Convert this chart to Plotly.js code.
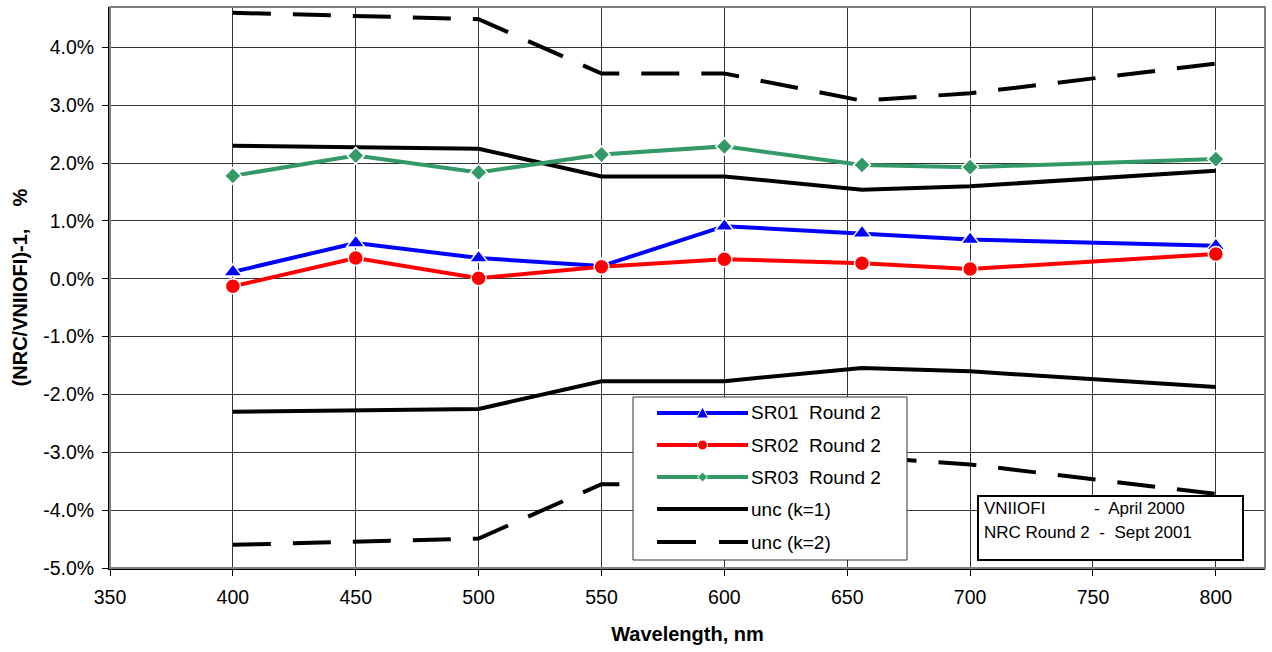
<!DOCTYPE html>
<html>
<head>
<meta charset="utf-8">
<script src="https://cdn.plot.ly/plotly-3.0.1.min.js"></script>
<style>html,body{margin:0;padding:0;background:#fff;}#chart{width:1272px;height:652px;}</style>
</head>
<body>
<div id="chart"></div>
<script>
// ---- data ----
const wavelength = [400, 450, 500, 550, 600, 656, 700, 800];
const sr01 = [0.12, 0.62, 0.36, 0.22, 0.91, 0.79, 0.68, 0.57];
const sr02 = [-0.13, 0.36, 0.01, 0.21, 0.34, 0.27, 0.17, 0.43];
const sr03 = [1.78, 2.13, 1.84, 2.15, 2.29, 1.97, 1.93, 2.07];
const uncK1Upper = [2.30, 2.28, 2.25, 1.77, 1.77, 1.54, 1.60, 1.87];
const uncK1Lower = [-2.30, -2.28, -2.25, -1.77, -1.77, -1.54, -1.60, -1.87];
const uncK2Upper = [4.60, 4.55, 4.49, 3.55, 3.55, 3.08, 3.21, 3.72];
const uncK2Lower = [-4.60, -4.54, -4.49, -3.55, -3.55, -3.08, -3.21, -3.72];
const yTickVals = [-5, -4, -3, -2, -1, 0, 1, 2, 3, 4];
const yTickText = ['-5.0%', '-4.0%', '-3.0%', '-2.0%', '-1.0%', '0.0%', '1.0%', '2.0%', '3.0%', '4.0%'];
const xTickVals = [350, 400, 450, 500, 550, 600, 650, 700, 750, 800];
const seriesNames = ['SR01  Round 2', 'SR02  Round 2', 'SR03  Round 2', 'unc (k=1)', 'unc (k=2)'];
const noteLines = ['VNIIOFI', '-  April 2000', 'NRC Round 2  -  Sept 2001'];
const xTitle = 'Wavelength, nm';
const yTitle = '(NRC/VNIIOFI)-1,\u00A0\u00A0\u00A0\u00A0%';

// ---- layout helpers ----
const M = {l: 110, r: 7, t: 7, b: 84};
const W = 1272, H = 652;
const PW = W - M.l - M.r, PH = H - M.t - M.b;
const px = x => (x - M.l) / PW;
const py = y => (H - M.b - y) / PH;
const FONT = '"Liberation Sans", Arial, sans-serif';

const BLUE = '#0000FF', RED = '#FF0000', GREEN = '#339966', BLACK = '#000000';

function line(y, color, name, dash) {
  return {x: wavelength, y: y, mode: 'lines', name: name, showlegend: false,
    line: {color: color, width: 4, dash: dash || 'solid'}, hoverinfo: 'skip'};
}
function markerSeries(y, color, name, symbol, size) {
  return {x: wavelength, y: y, mode: 'lines+markers', name: name, showlegend: false,
    line: {color: color, width: 4},
    marker: {symbol: symbol, size: size, color: color, line: {color: '#FFFFFF', width: 1.5}}};
}

const traces = [
  line(uncK2Upper, BLACK, seriesNames[4], '38px,22px'),
  line(uncK2Lower, BLACK, seriesNames[4], '38px,22px'),
  line(uncK1Upper, BLACK, seriesNames[3]),
  line(uncK1Lower, BLACK, seriesNames[3]),
  markerSeries(sr01, BLUE, seriesNames[0], 'triangle-up', 16),
  markerSeries(sr02, RED, seriesNames[1], 'circle', 15),
  markerSeries(sr03, GREEN, seriesNames[2], 'diamond', 13)
];

const shapes = [];
const annotations = [];

// plot-area border
shapes.push({type: 'rect', xref: 'paper', yref: 'paper', x0: 0, x1: 1, y0: 0, y1: 1,
  line: {color: '#808080', width: 2}, layer: 'above'});

// custom legend box
const LB = {x0: 633, x1: 907, y0: 397, y1: 560};
shapes.push({type: 'rect', xref: 'paper', yref: 'paper', x0: px(LB.x0), x1: px(LB.x1),
  y0: py(LB.y1), y1: py(LB.y0), fillcolor: '#FFFFFF', line: {color: '#333333', width: 1}, layer: 'above'});
const rowY = [413, 445, 477, 509, 542];
const colors = [BLUE, RED, GREEN, BLACK, BLACK];
const sx0 = 657, sx1 = 748, sxm = 702.5;
rowY.forEach((yy, i) => {
  shapes.push({type: 'line', xref: 'paper', yref: 'paper', x0: px(sx0), x1: px(sx1), y0: py(yy), y1: py(yy),
    line: {color: colors[i], width: 4, dash: i === 4 ? '39px,23px' : 'solid'}, layer: 'above'});
  annotations.push({xref: 'paper', yref: 'paper', x: px(749), y: py(yy), xanchor: 'left', yanchor: 'middle',
    text: seriesNames[i], showarrow: false, font: {family: FONT, size: 19, color: '#000'}});
});
// legend markers
function pth(pts) {
  return 'M' + pts.map(p => px(p[0]) + ',' + py(p[1])).join(' L') + ' Z';
}
shapes.push({type: 'path', xref: 'paper', yref: 'paper', path: pth([[sxm - 6, rowY[0] + 5], [sxm + 6, rowY[0] + 5], [sxm, rowY[0] - 6]]),
  fillcolor: BLUE, line: {color: '#FFFFFF', width: 1}, layer: 'above'});
shapes.push({type: 'circle', xref: 'paper', yref: 'paper', x0: px(sxm - 5), x1: px(sxm + 5), y0: py(rowY[1] + 5), y1: py(rowY[1] - 5),
  fillcolor: RED, line: {color: '#FFFFFF', width: 1}, layer: 'above'});
shapes.push({type: 'path', xref: 'paper', yref: 'paper', path: pth([[sxm - 5, rowY[2]], [sxm, rowY[2] - 5], [sxm + 5, rowY[2]], [sxm, rowY[2] + 5]]),
  fillcolor: GREEN, line: {color: '#FFFFFF', width: 1}, layer: 'above'});

// note box
const NB = {x0: 978, x1: 1243, y0: 496, y1: 560};
shapes.push({type: 'rect', xref: 'paper', yref: 'paper', x0: px(NB.x0), x1: px(NB.x1),
  y0: py(NB.y1), y1: py(NB.y0), fillcolor: '#FFFFFF', line: {color: '#000000', width: 2}, layer: 'above'});
annotations.push({xref: 'paper', yref: 'paper', x: px(982), y: py(508), xanchor: 'left', yanchor: 'middle',
  text: noteLines[0], showarrow: false, font: {family: FONT, size: 17, color: '#000'}});
annotations.push({xref: 'paper', yref: 'paper', x: px(1092), y: py(508), xanchor: 'left', yanchor: 'middle',
  text: noteLines[1], showarrow: false, font: {family: FONT, size: 17, color: '#000'}});
annotations.push({xref: 'paper', yref: 'paper', x: px(982), y: py(532), xanchor: 'left', yanchor: 'middle',
  text: noteLines[2], showarrow: false, font: {family: FONT, size: 17, color: '#000'}});

const layout = {
  width: W, height: H,
  margin: M,
  paper_bgcolor: '#FFFFFF', plot_bgcolor: '#FFFFFF',
  showlegend: false,
  font: {family: FONT, size: 19, color: '#000'},
  xaxis: {
    range: [350, 820], tickmode: 'array', tickvals: xTickVals,
    showgrid: true, gridcolor: '#333333', gridwidth: 1,
    zeroline: false, showline: true, linecolor: '#000', linewidth: 2,
    ticks: 'outside', ticklen: 6, tickcolor: '#000', tickwidth: 1,
    tickfont: {family: FONT, size: 19.5, color: '#000'}, ticklabelstandoff: 5,
    title: {text: xTitle, font: {family: FONT, size: 20, color: '#000', weight: 'bold'}, standoff: 20}
  },
  yaxis: {
    range: [-5, 4.7], tickmode: 'array', tickvals: yTickVals, ticktext: yTickText,
    showgrid: true, gridcolor: '#333333', gridwidth: 1,
    zeroline: false, showline: true, linecolor: '#000', linewidth: 2,
    ticks: 'outside', ticklen: 6, tickcolor: '#000', tickwidth: 1,
    tickfont: {family: FONT, size: 19.5, color: '#000'}, ticklabelstandoff: 4,
    title: {text: yTitle, font: {family: FONT, size: 20, color: '#000', weight: 'bold'}, standoff: 10}
  },
  shapes: shapes,
  annotations: annotations
};

Plotly.newPlot('chart', traces, layout, {displayModeBar: false, staticPlot: true});
</script>
</body>
</html>
